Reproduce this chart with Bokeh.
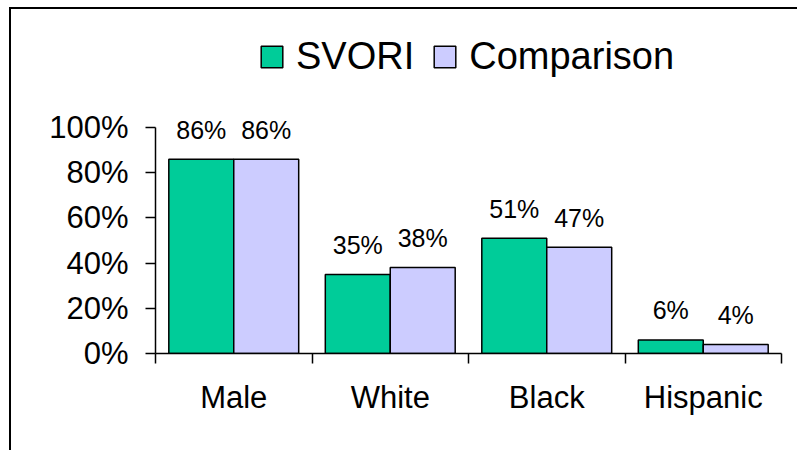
from bokeh.plotting import figure
from bokeh.models import (ColumnDataSource, Range1d, LinearAxis, FixedTicker, NumeralTickFormatter,
                          LabelSet, Legend, LegendItem)
from bokeh.core.properties import value
from bokeh.embed import file_html
from bokeh.resources import INLINE

categories = ["Male", "White", "Black", "Hispanic"]
svori = [0.86, 0.35, 0.51, 0.06]
comparison = [0.86, 0.38, 0.47, 0.04]
series_names = ["SVORI", "Comparison"]
y_ticks = [0, 0.2, 0.4, 0.6, 0.8, 1.0]

FONT = "Liberation Sans"
GREEN = "#00CC99"
PURPLE = "#CCCCFF"

# canvas placed at page (11, 9) after a 9/7 px margin and a 2 px border
W, H = 788, 443
top, bottom, left, right = 0, 99, 144, 18
frame_h = H - top - bottom
px_per_unit = 226.0
y_end = frame_h / px_per_unit

bw = 0.415
off = bw / 2
n = len(categories)
centers = [i + 0.5 for i in range(n)]

src = ColumnDataSource(dict(
    xs=[c - off for c in centers],
    xc=[c + off for c in centers],
    svori=svori,
    comp=comparison,
    svori_lbl=[f"{round(v*100)}%" for v in svori],
    comp_lbl=[f"{round(v*100)}%" for v in comparison],
))

p = figure(width=W, height=H, x_range=Range1d(0, n), y_range=Range1d(0, y_end),
           output_backend="svg", toolbar_location=None,
           x_axis_location=None, y_axis_location=None,
           min_border_top=top, min_border_bottom=bottom, min_border_left=left,
           min_border_right=right)
p.styles = {"margin-left": "9px", "margin-top": "7px",
            "border-left": "2px solid black", "border-top": "2px solid black"}
p.outline_line_color = None
p.xgrid.visible = False
p.ygrid.visible = False
p.background_fill_color = "white"
p.border_fill_color = "white"

r1 = p.vbar(x="xs", top="svori", width=bw, source=src,
            fill_color=GREEN, line_color="black", line_width=1.5)
r2 = p.vbar(x="xc", top="comp", width=bw, source=src,
            fill_color=PURPLE, line_color="black", line_width=1.5)

for xcol, ycol, tcol in (("xs", "svori", "svori_lbl"), ("xc", "comp", "comp_lbl")):
    lab = LabelSet(x=xcol, y=ycol, text=tcol, source=src, y_offset=29.5,
                   text_align="center", text_baseline="middle",
                   text_font=value(FONT), text_font_size="25px", text_color="black")
    p.add_layout(lab)

# y axis
yax = LinearAxis(ticker=FixedTicker(ticks=y_ticks), formatter=NumeralTickFormatter(format="0%"),
                 bounds=(0, 1))
yax.major_tick_out = 10
yax.major_tick_in = 0
yax.minor_tick_line_color = None
yax.major_tick_line_width = 1.5
yax.axis_line_width = 1.5
yax.major_label_standoff = 17
yax.major_label_text_font = FONT
yax.major_label_text_font_size = "31px"
yax.major_label_text_color = "black"
p.add_layout(yax, "left")

# x axis: labels at category centres, boundary ticks as minor ticks
xax = LinearAxis(ticker=FixedTicker(ticks=centers, minor_ticks=list(range(n + 1))),
                 major_label_overrides={c: name for c, name in zip(centers, categories)})
xax.axis_line_width = 1.5
xax.major_tick_line_color = None
xax.major_tick_out = 10
xax.major_tick_in = 0
xax.minor_tick_line_color = "black"
xax.minor_tick_line_width = 1.5
xax.minor_tick_out = 10
xax.minor_tick_in = 0
xax.major_label_standoff = 16
xax.major_label_text_font = FONT
xax.major_label_text_font_size = "31px"
xax.major_label_text_color = "black"
p.add_layout(xax, "below")

legend = Legend(items=[LegendItem(label=series_names[0], renderers=[r1]),
                       LegendItem(label=series_names[1], renderers=[r2])],
                orientation="horizontal", location=(103, 275))
legend.glyph_width = 27
legend.glyph_height = 27
legend.label_height = 27
legend.label_standoff = 11
legend.spacing = 17
legend.padding = 0
legend.margin = 0
legend.border_line_color = None
legend.background_fill_alpha = 0
legend.label_text_font = FONT
legend.label_text_font_size = "38px"
legend.label_text_color = "black"
p.add_layout(legend, "center")

open("out.html", "w").write(file_html(p, INLINE))
